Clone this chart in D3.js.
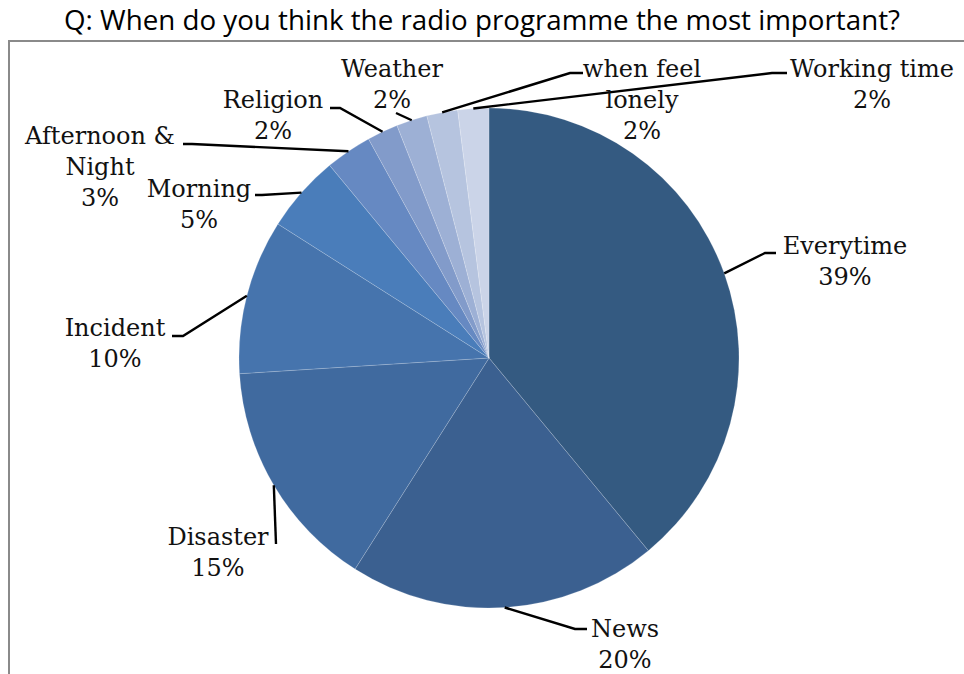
<!DOCTYPE html>
<html>
<head>
<meta charset="utf-8">
<script src="https://cdn.jsdelivr.net/npm/d3@7"></script>
<style>
  html, body { margin: 0; padding: 0; background: #fff; }
  svg { display: block; }
</style>
</head>
<body>
<svg id="container"></svg>
<script>
// slices, clockwise from 12 o'clock
const categories = ['Everytime', 'News', 'Disaster', 'Incident', 'Morning',
  'Afternoon & Night', 'Religion', 'Weather', 'when feel lonely', 'Working time'];
const values = [39, 20, 15, 10, 5, 3, 2, 2, 2, 2];
const colors = ['#345A81', '#3B6090', '#406A9F', '#4674AD', '#4A7DBA',
  '#6689C2', '#829BCA', '#9DB0D5', '#B6C4DF', '#CBD4E8'];

// label layout: wrapped lines, text centre/baseline, elbow and end of leader
const labelLines = [['Everytime'], ['News'], ['Disaster'], ['Incident'], ['Morning'],
  ['Afternoon &', 'Night'], ['Religion'], ['Weather'], ['when feel', 'lonely'], ['Working time']];
const labelPos = [
  { x: 845, y: 254, elbow: [765, 253], end: [776, 253] },
  { x: 625, y: 637, elbow: [575, 629], end: [587, 629] },
  { x: 218, y: 545, elbow: [276, 544], end: [276, 544] },
  { x: 115, y: 336, elbow: [183, 336], end: [172, 336] },
  { x: 199, y: 197, elbow: [262, 195], end: [255, 195] },
  { x: 100, y: 144, elbow: [192, 144], end: [183, 144] },
  { x: 273, y: 108, elbow: [340, 108], end: [330, 108] },
  { x: 392, y: 77, elbow: [396, 113], end: [396, 113] },
  { x: 642, y: 77, elbow: [570, 73], end: [583, 73] },
  { x: 872, y: 77, elbow: [772, 73], end: [787, 73] }
];

const width = 964, height = 674;
const cx = 489, cy = 358, radius = 250;
const lineH = 31;

const svg = d3.select('#container')
  .attr('width', width)
  .attr('height', height);

// frame (only top/left visible in the crop)
svg.append('rect')
  .attr('x', 9).attr('y', 41)
  .attr('width', 1000).attr('height', 700)
  .attr('fill', 'none')
  .attr('stroke', '#8a8a8a')
  .attr('stroke-width', 2);

svg.append('text')
  .attr('x', 482).attr('y', 30)
  .attr('text-anchor', 'middle')
  .attr('font-family', '"Open Sans", sans-serif')
  .attr('font-size', 26.5)
  .attr('fill', '#000')
  .attr('textLength', 836)
  .attr('lengthAdjust', 'spacingAndGlyphs')
  .text('Q: When do you think the radio programme the most important?');

const pie = d3.pie()
  .sort(null)
  .value(function (d) { return d; });

const data = pie(values);

const arc = d3.arc().innerRadius(0).outerRadius(radius);
const rim = d3.arc().innerRadius(radius).outerRadius(radius);

const g = svg.append('g')
  .attr('transform', 'translate(' + cx + ',' + cy + ')');

g.selectAll('path')
  .data(data)
  .join('path')
  .attr('d', arc)
  .attr('fill', function (d, i) { return colors[i]; })
  .attr('stroke', 'rgba(255,255,255,0.22)')
  .attr('stroke-width', 0.8);

// leader lines
svg.append('g')
  .selectAll('polyline')
  .data(data)
  .join('polyline')
  .attr('points', function (d, i) {
    const p = rim.centroid(d);
    const lp = labelPos[i];
    return [[cx + p[0], cy + p[1]], lp.elbow, lp.end].map(function (q) { return q.join(','); }).join(' ');
  })
  .attr('fill', 'none')
  .attr('stroke', '#000')
  .attr('stroke-width', 2.4);

// labels
const labels = svg.append('g')
  .attr('font-family', '"DejaVu Serif", serif')
  .attr('font-size', 24)
  .attr('fill', '#111')
  .attr('text-anchor', 'middle')
  .selectAll('text')
  .data(data)
  .join('text')
  .attr('x', function (d, i) { return labelPos[i].x; })
  .attr('y', function (d, i) { return labelPos[i].y; });

labels.each(function (d, i) {
  const t = d3.select(this);
  const lines = labelLines[i].concat([d.data + '%']);
  lines.forEach(function (s, k) {
    t.append('tspan')
      .attr('x', labelPos[i].x)
      .attr('y', labelPos[i].y + k * lineH)
      .text(s);
  });
});
</script>
</body>
</html>
